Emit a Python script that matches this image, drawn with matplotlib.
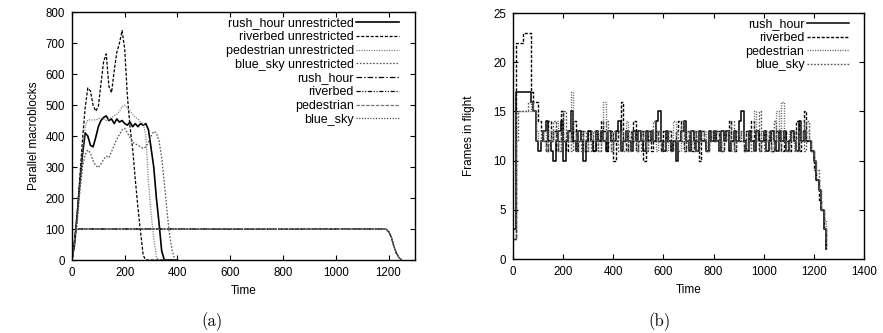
import numpy as np
import matplotlib
matplotlib.use("Agg")
import matplotlib.pyplot as plt

# ── Data: panel (a) parallel macroblocks ─────────────────────────────────────
time_a = list(range(0, 410, 10))
rush_hour_unr = [0, 60, 150, 250, 340, 410, 400, 370, 365, 395, 430, 450, 460, 465,
                 450, 455, 440, 455, 445, 450, 440, 435, 445, 430, 440, 430, 440,
                 435, 440, 420, 360, 300, 200, 120, 30, 0, 0, 0, 0, 0, 0]
riverbed_unr = [0, 50, 150, 270, 390, 490, 555, 545, 500, 480, 495, 570, 640, 665,
                560, 540, 610, 670, 700, 740, 680, 530, 430, 360, 260, 170, 90,
                15, 0, 0, 0, 0, 0, 0, 0, 0, 0, 0, 0, 0, 0]
pedestrian_unr = [0, 55, 145, 250, 350, 430, 452, 452, 452, 452, 455, 458, 455, 450,
                  455, 460, 465, 470, 480, 495, 500, 490, 480, 470, 460, 455, 445,
                  440, 400, 250, 150, 70, 10, 0, 0, 0, 0, 0, 0, 0, 0]
blue_sky_unr = [0, 40, 120, 220, 300, 340, 355, 345, 320, 305, 298, 310, 325, 335,
                330, 350, 370, 390, 405, 420, 425, 410, 395, 380, 375, 370, 365,
                360, 365, 380, 400, 415, 410, 385, 330, 250, 160, 80, 30, 0, 0]

time_r = [0, 5, 10, 15, 20, 200, 400, 600, 800, 1000, 1190, 1200, 1210, 1220, 1230, 1240, 1250]
rush_hour_r = [0, 25, 65, 100, 100, 100, 100, 100, 100, 100, 100, 92, 75, 45, 22, 8, 0]
riverbed_r = [0, 25, 65, 100, 100, 100, 100, 99, 100, 100, 100, 91, 74, 44, 21, 7, 0]
pedestrian_r = [0, 24, 64, 100, 100, 100, 99, 100, 100, 99, 100, 92, 76, 46, 23, 8, 0]
blue_sky_r = [0, 24, 64, 99, 100, 100, 100, 100, 99, 100, 100, 93, 76, 46, 22, 7, 0]

# ── Data: panel (b) frames in flight ─────────────────────────────────────────
time_b = list(range(0, 1260, 10))
rush_hour_f = ([3, 17, 17, 17, 17, 17, 17, 16, 15, 12, 11]
               + [12, 13, 14, 12, 11, 10, 12, 13, 14, 10,
                  12, 13, 15, 12, 11, 13, 12, 10, 12, 13,
                  12, 11, 13, 12, 13, 12, 11, 13, 12, 12,
                  13, 14, 11, 12, 13, 12, 11, 13, 12, 13,
                  12, 11, 13, 12, 13, 12, 14, 15, 12, 11,
                  13, 12, 11, 12, 10, 12, 13, 14, 12, 11,
                  13, 12, 11, 13, 12, 12, 11, 13, 12, 13,
                  12, 11, 13, 12, 13, 11, 12, 13, 12, 14,
                  15, 12, 11, 13, 12, 11, 13, 12, 12, 13,
                  11, 12, 13, 12, 11, 13, 12, 13, 11, 12,
                  13, 12, 11, 14, 12, 13, 12]
               + [12, 11, 10, 8, 7, 5, 3, 1])
riverbed_f = ([2, 22, 22, 22, 23, 23, 23, 17, 16, 16, 14]
              + [13, 12, 11, 14, 12, 13, 11, 12, 15, 12,
                 11, 13, 12, 14, 11, 12, 13, 11, 12, 13,
                 12, 11, 13, 12, 14, 13, 11, 12, 13, 10,
                 12, 13, 16, 12, 11, 13, 12, 14, 11, 12,
                 13, 10, 12, 13, 11, 12, 13, 12, 11, 13,
                 12, 13, 11, 12, 13, 14, 12, 11, 13, 12,
                 11, 13, 12, 10, 13, 12, 11, 12, 13, 12,
                 13, 12, 11, 13, 12, 14, 12, 11, 13, 12,
                 12, 11, 13, 12, 14, 12, 13, 11, 12, 13,
                 12, 13, 11, 12, 13, 12, 11, 13, 12, 11,
                 13, 12, 14, 11, 13, 15, 12]
              + [12, 11, 9, 8, 6, 5, 3, 1])
pedestrian_f = ([2, 15, 15, 15, 15, 15, 15, 16, 15, 13, 12]
                + [12, 13, 11, 12, 13, 12, 14, 11, 13, 12,
                   13, 12, 17, 13, 11, 12, 13, 12, 11, 12,
                   13, 12, 13, 11, 12, 16, 12, 13, 11, 12,
                   12, 13, 12, 11, 14, 12, 13, 12, 11, 13,
                   12, 13, 11, 12, 13, 12, 11, 13, 12, 12,
                   11, 13, 12, 14, 12, 11, 13, 12, 13, 11,
                   12, 13, 11, 12, 12, 13, 11, 12, 13, 12,
                   12, 11, 13, 12, 13, 12, 11, 12, 13, 12,
                   13, 12, 11, 12, 13, 15, 12, 11, 13, 12,
                   13, 12, 11, 12, 15, 12, 16, 12, 11, 13,
                   12, 11, 13, 12, 14, 12, 13]
                + [12, 11, 10, 8, 7, 5, 4, 2])
blue_sky_f = ([2, 12, 15, 15, 15, 15, 16, 16, 15, 12, 12]
              + [13, 12, 11, 13, 12, 14, 12, 11, 13, 15,
                 12, 13, 11, 12, 13, 12, 11, 13, 12, 11,
                 12, 13, 12, 11, 13, 12, 14, 12, 11, 13,
                 12, 11, 13, 12, 13, 11, 12, 13, 12, 11,
                 13, 12, 11, 13, 12, 14, 12, 13, 11, 12,
                 13, 12, 11, 12, 13, 12, 14, 11, 12, 13,
                 12, 11, 13, 12, 13, 12, 11, 13, 12, 12,
                 13, 12, 11, 12, 13, 12, 14, 11, 12, 13,
                 12, 11, 13, 12, 11, 12, 13, 15, 12, 11,
                 12, 13, 11, 14, 12, 11, 13, 12, 11, 12,
                 13, 12, 11, 13, 12, 11, 14]
              + [12, 11, 10, 9, 7, 5, 3, 1])

# ── Styles ───────────────────────────────────────────────────────────────────
plt.rcParams.update({"font.family": "Liberation Sans", "font.size": 8.5,
                     "lines.scale_dashes": False})

SOLID = "-"
DASH = (0, (2.2, 1.2))
DOT_FINE = (0, (0.8, 1.0))
DOT = (0, (1.2, 1.2))
DASHDOT = (0, (4, 1.5, 1, 1.5))
DASHDOTDOT = (0, (3, 1.2, 0.8, 1.2, 0.8, 1.2))
DASH_LONG = (0, (2.5, 1))
DOT_DARK = (0, (0.8, 1.2))

fig = plt.figure(figsize=(8.83, 3.33), dpi=100)
ax1 = fig.add_axes([0.0815, 0.2192, 0.3884, 0.7447])
ax2 = fig.add_axes([0.581, 0.2222, 0.3975, 0.7387])

series_a = [
    (time_a, rush_hour_unr, "rush_hour unrestricted", SOLID, "black", 1.2),
    (time_a, riverbed_unr, "riverbed unrestricted", DASH, "black", 0.9),
    (time_a, pedestrian_unr, "pedestrian unrestricted", DOT_FINE, "#777777", 0.9),
    (time_a, blue_sky_unr, "blue_sky unrestricted", DOT, "#555555", 0.9),
    (time_r, rush_hour_r, "rush_hour", DASHDOT, "black", 0.9),
    (time_r, riverbed_r, "riverbed", DASHDOTDOT, "black", 0.9),
    (time_r, pedestrian_r, "pedestrian", DASH_LONG, "#777777", 0.9),
    (time_r, blue_sky_r, "blue_sky", DOT_DARK, "#333333", 0.9),
]
for t, v, lab, ls, c, lw in series_a:
    ax1.plot(t, v, ls=ls, color=c, lw=lw, label=lab)

series_b = [
    (rush_hour_f, "rush_hour", SOLID, "black", 1.1),
    (riverbed_f, "riverbed", DASH, "black", 1.0),
    (pedestrian_f, "pedestrian", DOT_FINE, "#666666", 1.0),
    (blue_sky_f, "blue_sky", DOT, "#555555", 1.0),
]
for v, lab, ls, c, lw in series_b:
    ax2.plot(time_b, v, ls=ls, color=c, lw=lw, label=lab, drawstyle="steps-post")

ax1.set_xlim(0, 1300)
ax1.set_ylim(0, 800)
ax1.set_xticks(range(0, 1201, 200))
ax1.set_yticks(range(0, 801, 100))
ax1.set_ylabel("Parallel macroblocks", labelpad=4)

ax2.set_xlim(0, 1400)
ax2.set_ylim(0, 25)
ax2.set_xticks(range(0, 1401, 200))
ax2.set_yticks(range(0, 26, 5))
ax2.set_ylabel("Frames in flight", labelpad=13)

for ax in (ax1, ax2):
    ax.set_xlabel("Time", labelpad=4)
    ax.tick_params(direction="in", top=True, right=True, length=3.5, width=0.8,
                   pad=5, labelsize=8.3)
    for s in ax.spines.values():
        s.set_linewidth(1.0)

ax1.legend(loc="upper right", bbox_to_anchor=(0.955, 0.978), frameon=False,
           markerfirst=False, handlelength=3.44, handletextpad=0.2,
           labelspacing=0.14, borderpad=0, borderaxespad=0, fontsize=9)
ax2.legend(loc="upper right", bbox_to_anchor=(0.957, 0.979), frameon=False,
           markerfirst=False, handlelength=3.36, handletextpad=0.2,
           labelspacing=0.14, borderpad=0, borderaxespad=0, fontsize=9)

fig.text(212 / 883, 1 - 322 / 333, "(a)", ha="center", va="center",
         fontsize=12, family="cmr10")
fig.text(660 / 883, 1 - 322 / 333, "(b)", ha="center", va="center",
         fontsize=12, family="cmr10")

fig.savefig("out.png", dpi=100)
